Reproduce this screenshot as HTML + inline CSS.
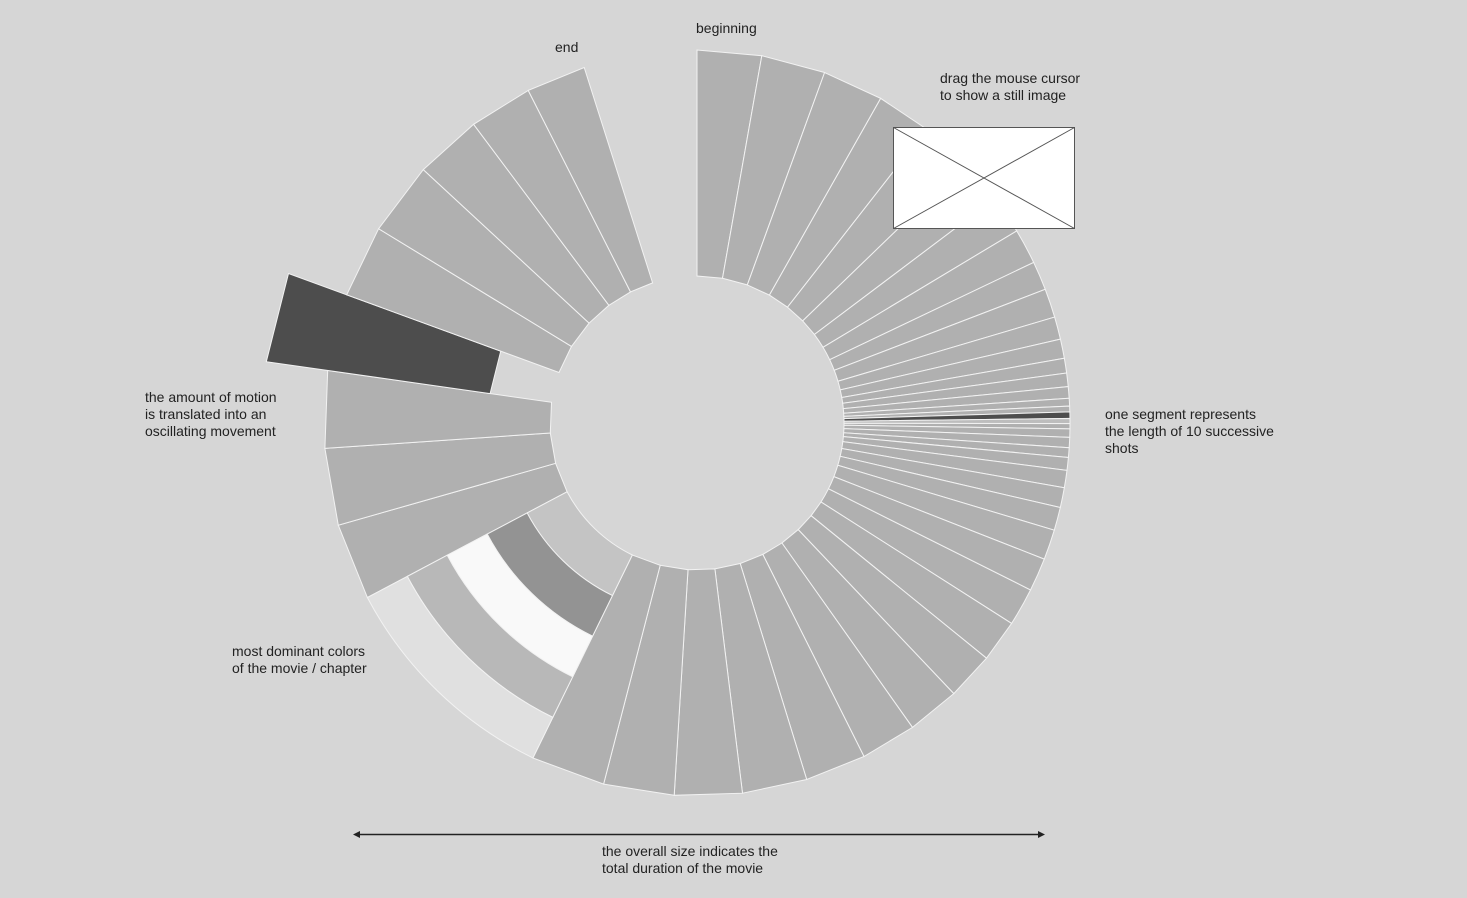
<!DOCTYPE html>
<html><head><meta charset="utf-8">
<style>
html,body{margin:0;padding:0;background:#d6d6d6;}
svg{display:block;font-family:"Liberation Sans",sans-serif;}
text{font-size:14px;fill:#222;}
</style></head>
<body>
<svg id="chart" width="1467" height="898" viewBox="0 0 1467 898">
<rect width="1467" height="898" fill="#d6d6d6"/>
<g id="segs"></g>
<g id="colors"></g>
<g>
<rect x="893.5" y="127.5" width="181" height="101" fill="#fff" stroke="#555" stroke-width="1"/>
<line x1="893.5" y1="127.5" x2="1074.5" y2="228.5" stroke="#555"/>
<line x1="1074.5" y1="127.5" x2="893.5" y2="228.5" stroke="#555"/>
</g>
<g>
<line x1="356" y1="834.5" x2="1042" y2="834.5" stroke="#222" stroke-width="1.5"/>
<path d="M353 834.5 L360 831 L360 838 Z" fill="#222"/>
<path d="M1045 834.5 L1038 831 L1038 838 Z" fill="#222"/>
</g>
<text x="696" y="33">beginning</text>
<text x="555" y="52">end</text>
<text x="940" y="83">drag the mouse cursor</text>
<text x="940" y="100">to show a still image</text>
<text x="1105" y="419">one segment represents</text>
<text x="1105" y="436">the length of 10 successive</text>
<text x="1105" y="453">shots</text>
<text x="145" y="402">the amount of motion</text>
<text x="145" y="419">is translated into an</text>
<text x="145" y="436">oscillating movement</text>
<text x="232" y="656">most dominant colors</text>
<text x="232" y="673">of the movie / chapter</text>
<text x="602" y="856">the overall size indicates the</text>
<text x="602" y="873">total duration of the movie</text>
</svg>
<script>
// segment durations in degrees of the full circle, clockwise from "beginning"
const segmentDurations = [10,10,9.5,8.5,8,7,6,5.5,4.5,4.5,3.5,3,2.3,2.1,1.8,1.2,0.9,1,0.8,0.8,1.3,1.6,1.5,2,2.7,3.1,3.6,4.7,5.2,5.9,6.6,7.4,8.2,8.7,9.5,10.1,10.5,11,11.6];
// motion offset (0 = none) per segment
const segmentMotion = [0,0,0,0,0,0,0,0,0,0,0,0,0,0,0,0,0,0,0,0,0,0,0,0,0,0,0,0,0,0,0,0,0,0,0,0,0,0,0];
const segmentShade = ["n","n","n","n","n","n","n","n","n","n","n","n","n","n","n","n","n","d","l","n","n","n","n","n","n","n","n","n","n","n","n","n","n","n","n","n","n","n","n"];
const colorSpan = 36;
const dominantColors = ["#c4c4c4","#939393","#f9f9f9","#b8b8b8","#e0e0e0"];
const tailDurations = [12,12,12,12,11.3,11.4,10.4,9.9,9.3];
const tailMotion = [0,0,0,1,0,0,0,0,0];

const cx=697, cy=423, r0=147, r1=373, shift=62;
const NS="http://www.w3.org/2000/svg";
function pt(a,r){const t=a*Math.PI/180;return [cx+r*Math.sin(t), cy-r*Math.cos(t)];}
function wedge(a0,a1,ri,ro){
  const p=[pt(a0,ri),pt(a0,ro),pt(a1,ro),pt(a1,ri)];
  return "M"+p.map(q=>q[0].toFixed(1)+" "+q[1].toFixed(1)).join(" L")+" Z";
}
function arcWedge(a0,a1,ri,ro){
  const A=pt(a0,ro),B=pt(a1,ro),C=pt(a1,ri),D=pt(a0,ri);const lg=(a1-a0)>180?1:0;
  return `M${A[0]} ${A[1]} A${ro} ${ro} 0 ${lg} 1 ${B[0]} ${B[1]} L${C[0]} ${C[1]} A${ri} ${ri} 0 ${lg} 0 ${D[0]} ${D[1]} Z`;
}
const shadeMap={n:"#b0b0b0",d:"#4d4d4d",l:"#bdbdbd"};
const segG=document.getElementById('segs');
function addSeg(a0,a1,m,fill,i){
  const p=document.createElementNS(NS,'path');
  const off=m?shift:0;
  p.setAttribute('d',(a1-a0)>6?wedge(a0,a1,r0+off,r1+off):arcWedge(a0,a1,r0+off,r1+off));
  p.setAttribute('fill',fill);p.setAttribute('stroke','#f2f2f2');p.setAttribute('stroke-width','1');
  
  
  segG.appendChild(p);
}
let a=0;
segmentDurations.forEach((d,i)=>{addSeg(a,a+d,segmentMotion[i],shadeMap[segmentShade[i]],i);a+=d;});
const cStart=a;
const colG=document.getElementById('colors');
const bw=(r1-r0)/dominantColors.length;
dominantColors.forEach((c,i)=>{
  const p=document.createElementNS(NS,'path');
  p.setAttribute('d',arcWedge(cStart,cStart+colorSpan,r0+i*bw,r0+(i+1)*bw));
  p.setAttribute('fill',c);p.setAttribute('stroke','#f2f2f2');p.setAttribute('stroke-width','1');
  
  
  colG.appendChild(p);
});
a=cStart+colorSpan;
tailDurations.forEach((d,i)=>{addSeg(a,a+d,tailMotion[i],tailMotion[i]?"#4d4d4d":"#b0b0b0",'tail-'+i);a+=d;});
</script>
</body></html>
